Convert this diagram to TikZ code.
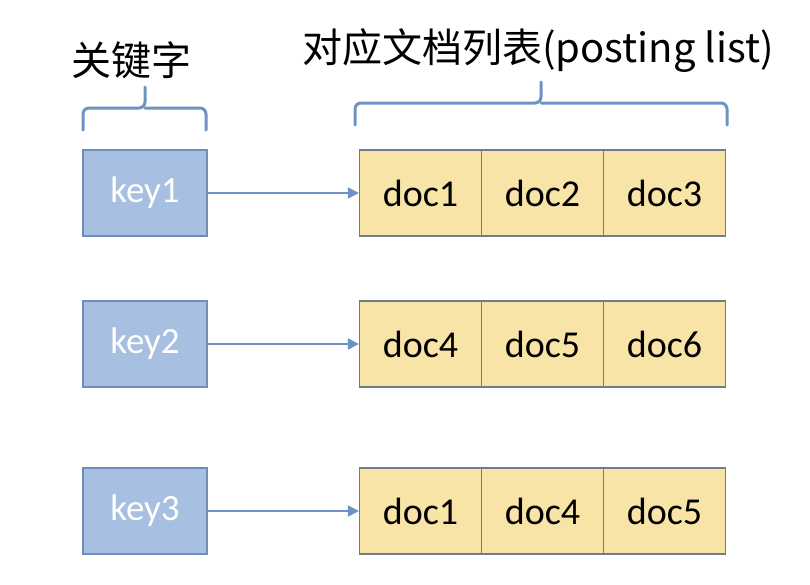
\documentclass[tikz,border=0pt]{standalone}
\usepackage{fontspec}
\setmainfont{Carlito}
\newfontfamily\cjk{Noto Sans CJK SC}
\usetikzlibrary{arrows.meta}
\definecolor{keyfill}{HTML}{A7BFE0}
\definecolor{keyline}{HTML}{6F8DB8}
\definecolor{docfill}{HTML}{F8E4A6}
\definecolor{docline}{HTML}{6E7D8C}
\definecolor{bracecol}{HTML}{6E92C4}
\begin{document}
\begin{tikzpicture}[x=1pt,y=-1pt,
  keybox/.style={draw=keyline,line width=1.2pt,fill=keyfill,minimum width=124pt,minimum height=86pt,inner sep=0pt,text=white,font=\fontsize{37}{40}\selectfont},
  docbox/.style={draw=docline,line width=1.2pt,fill=docfill,minimum width=122pt,minimum height=86pt,inner sep=0pt,text=black,font=\fontsize{38}{42}\selectfont},
  link/.style={draw=bracecol,line width=2pt,-{Triangle[length=11pt,width=11pt]}},
  bracel/.style={draw=bracecol,line width=3pt,line cap=round,rounded corners=6pt},
  title/.style={font=\cjk\fontsize{40}{44}\selectfont,inner sep=0pt}]
\useasboundingbox (0,0) rectangle (810,584);
\fill[white] (0,0) rectangle (810,584);
\node[title] (t1) at (131,60) {关键字};
\node[title] (t2) at (538,51) {对应文档列表(posting list)};
% braces
\draw[bracel] (83,130) -- (83,108) -- (145,108) -- (145,87);
\draw[bracel] (206,130) -- (206,108) -- (145,108);
\draw[bracel] (355,125) -- (355,103) -- (541,103) -- (541,82);
\draw[bracel] (727,125) -- (727,103) -- (541,103);
% rows
\node[keybox] (k1) at (145,193) {key1};
\node[keybox] (k2) at (145,344) {key2};
\node[keybox] (k3) at (145,511) {key3};
\node[docbox] (d11) at (420.5,193) {doc1};
\node[docbox] (d12) at (542.5,193) {doc2};
\node[docbox] (d13) at (664.5,193) {doc3};
\node[docbox] (d21) at (420.5,344) {doc4};
\node[docbox] (d22) at (542.5,344) {doc5};
\node[docbox] (d23) at (664.5,344) {doc6};
\node[docbox] (d31) at (420.5,511) {doc1};
\node[docbox] (d32) at (542.5,511) {doc4};
\node[docbox] (d33) at (664.5,511) {doc5};
\draw[link] (k1.east) -- (d11.west);
\draw[link] (k2.east) -- (d21.west);
\draw[link] (k3.east) -- (d31.west);
\end{tikzpicture}
\end{document}
